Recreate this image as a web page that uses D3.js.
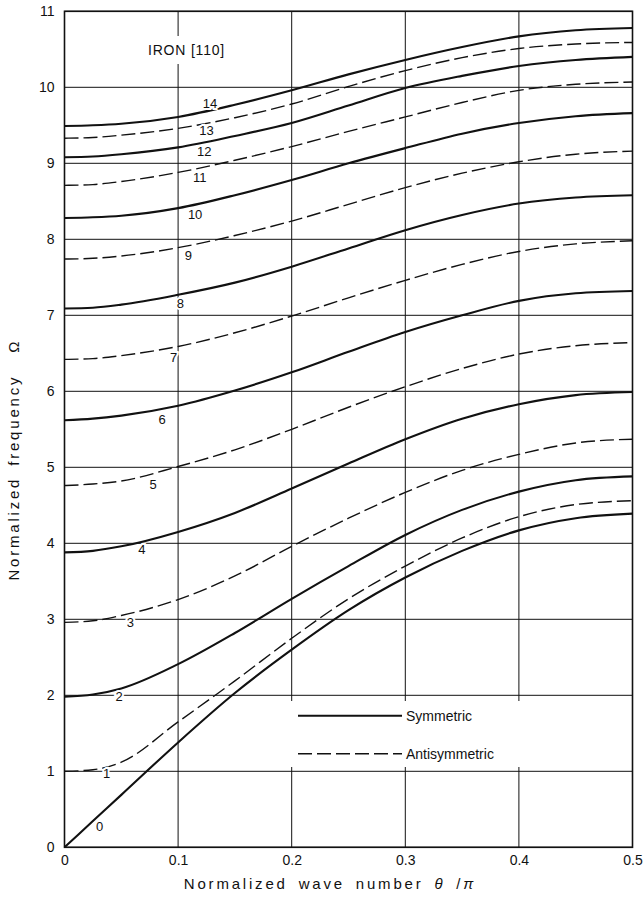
<!DOCTYPE html>
<html>
<head>
<meta charset="utf-8">
<script src="https://cdn.jsdelivr.net/npm/d3@7"></script>
<style>
body { margin: 0; background: #fff; }
svg { display: block; font-family: "Liberation Sans", Arial, sans-serif; }
</style>
</head>
<body>
<div id="chart"></div>
<script>
// sample points along the wave number axis (theta / pi)
const thetaGrid = [0, 0.025, 0.05, 0.1, 0.15, 0.2, 0.25, 0.3, 0.35, 0.4, 0.45, 0.5];

// normalized frequency of each branch at thetaGrid
const omega0  = [0, 0.345, 0.69, 1.38, 2.03, 2.60, 3.12, 3.55, 3.90, 4.17, 4.33, 4.39];
const omega1  = [1.00, 1.02, 1.12, 1.65, 2.19, 2.75, 3.27, 3.70, 4.07, 4.35, 4.51, 4.56];
const omega2  = [1.98, 2.01, 2.09, 2.41, 2.82, 3.27, 3.70, 4.11, 4.44, 4.68, 4.83, 4.88];
const omega3  = [2.96, 2.98, 3.05, 3.26, 3.57, 3.96, 4.33, 4.67, 4.96, 5.17, 5.32, 5.37];
const omega4  = [3.88, 3.90, 3.96, 4.15, 4.40, 4.72, 5.05, 5.37, 5.64, 5.83, 5.95, 5.99];
const omega5  = [4.76, 4.78, 4.82, 5.01, 5.23, 5.50, 5.79, 6.06, 6.30, 6.49, 6.60, 6.64];
const omega6  = [5.62, 5.64, 5.68, 5.81, 6.01, 6.25, 6.52, 6.78, 7.00, 7.19, 7.29, 7.32];
const omega7  = [6.42, 6.43, 6.47, 6.59, 6.77, 6.99, 7.23, 7.46, 7.67, 7.84, 7.94, 7.98];
const omega8  = [7.09, 7.10, 7.14, 7.27, 7.43, 7.64, 7.88, 8.12, 8.32, 8.47, 8.55, 8.58];
const omega9  = [7.74, 7.75, 7.78, 7.89, 8.05, 8.24, 8.46, 8.68, 8.87, 9.02, 9.12, 9.16];
const omega10 = [8.28, 8.29, 8.31, 8.41, 8.58, 8.78, 9.00, 9.20, 9.39, 9.53, 9.62, 9.66];
const omega11 = [8.71, 8.72, 8.76, 8.88, 9.04, 9.22, 9.42, 9.61, 9.80, 9.96, 10.04, 10.07];
const omega12 = [9.08, 9.09, 9.12, 9.21, 9.36, 9.53, 9.76, 9.99, 10.15, 10.28, 10.36, 10.40];
const omega13 = [9.33, 9.34, 9.37, 9.46, 9.60, 9.78, 10.01, 10.22, 10.39, 10.51, 10.57, 10.59];
const omega14 = [9.49, 9.50, 9.52, 9.61, 9.77, 9.96, 10.17, 10.36, 10.53, 10.67, 10.75, 10.78];

const branches = [omega0, omega1, omega2, omega3, omega4, omega5, omega6, omega7,
                  omega8, omega9, omega10, omega11, omega12, omega13, omega14];

// where each branch number is written (theta, omega)
const labelTheta = [0.031, 0.037, 0.048, 0.058, 0.068, 0.078, 0.086, 0.096,
                    0.102, 0.109, 0.115, 0.119, 0.123, 0.125, 0.128];
const labelOmega = [0.28, 0.97, 1.99, 2.96, 3.92, 4.78, 5.63, 6.45,
                    7.15, 7.79, 8.33, 8.82, 9.16, 9.43, 9.79];

const xTicks = [0, 0.1, 0.2, 0.3, 0.4, 0.5];
const yTicks = d3.range(0, 12);
const legendItems = ["Symmetric", "Antisymmetric"];

const width = 644, height = 899;
const x = d3.scaleLinear([0, 0.5], [64.5, 632.5]);
const y = d3.scaleLinear([0, 11], [847.3, 11.3]);

const svg = d3.create("svg")
    .attr("width", width)
    .attr("height", height)
    .attr("viewBox", [0, 0, width, height]);

// grid
const grid = svg.append("g")
    .attr("stroke", "#111")
    .attr("stroke-width", 1);
grid.selectAll("line.v")
  .data(xTicks)
  .join("line")
    .attr("x1", d => x(d)).attr("x2", d => x(d))
    .attr("y1", y(0)).attr("y2", y(11));
grid.selectAll("line.h")
  .data(yTicks)
  .join("line")
    .attr("x1", x(0)).attr("x2", x(0.5))
    .attr("y1", d => y(d)).attr("y2", d => y(d));

svg.append("rect")
    .attr("x", x(0)).attr("y", y(11))
    .attr("width", x(0.5) - x(0)).attr("height", y(0) - y(11))
    .attr("fill", "none")
    .attr("stroke", "#111")
    .attr("stroke-width", 1.6);

// title box hides the grid line behind it
const title = svg.append("g");
title.append("rect")
    .attr("x", 144).attr("y", 36).attr("width", 84).attr("height", 28)
    .attr("fill", "#fff");
title.append("text")
    .attr("x", 148).attr("y", 55)
    .attr("font-size", 14)
    .attr("letter-spacing", 0.8)
    .attr("fill", "#111")
    .text("IRON [110]");

// axes
svg.append("g")
    .attr("transform", `translate(0,${y(0)})`)
    .call(d3.axisBottom(x).tickValues(xTicks).tickSize(0).tickPadding(8)
        .tickFormat(d => d === 0 ? "0" : d.toFixed(1)))
    .call(g => g.select(".domain").remove())
    .call(g => g.selectAll("text").attr("font-size", 14).attr("fill", "#111")
        .attr("font-family", "Liberation Sans, Arial, sans-serif"));

svg.append("g")
    .attr("transform", `translate(${x(0)},0)`)
    .call(d3.axisLeft(y).tickValues(yTicks).tickSize(0).tickPadding(10)
        .tickFormat(d3.format("d")))
    .call(g => g.select(".domain").remove())
    .call(g => g.selectAll("text").attr("font-size", 14).attr("fill", "#111")
        .attr("font-family", "Liberation Sans, Arial, sans-serif"));

svg.append("text")
    .attr("x", 330).attr("y", 889)
    .attr("text-anchor", "middle")
    .attr("font-size", 15)
    .attr("letter-spacing", 2.8)
    .attr("word-spacing", 4)
    .attr("fill", "#111")
    .html("Normalized wave number <tspan font-style=\"italic\">θ</tspan> /<tspan font-style=\"italic\">π</tspan>");

svg.append("text")
    .attr("transform", `translate(19,${y(5.1)}) rotate(-90)`)
    .attr("text-anchor", "middle")
    .attr("font-size", 15)
    .attr("letter-spacing", 2.8)
    .attr("word-spacing", 4)
    .attr("fill", "#111")
    .html("Normalized frequency &#160;Ω");

// dispersion branches
const line = d3.line()
    .x((d, i) => x(thetaGrid[i]))
    .y(d => y(d))
    .curve(d3.curveMonotoneX);

svg.append("g")
    .attr("fill", "none")
    .attr("stroke", "#111")
  .selectAll("path")
  .data(branches)
  .join("path")
    .attr("stroke-width", (d, i) => i % 2 === 0 ? 2.1 : 1.4)
    .attr("stroke-dasharray", (d, i) => i % 2 === 0 ? null : "14,5")
    .attr("d", line);

// branch numbers
svg.append("g")
    .attr("font-size", 13)
    .attr("text-anchor", "middle")
  .selectAll("text")
  .data(branches.map((d, i) => i))
  .join("text")
    .attr("x", i => x(labelTheta[i]))
    .attr("y", i => y(labelOmega[i]))
    .attr("dy", "0.35em")
    .attr("fill", "#111")
    .text(i => i)
  .clone(true).lower()
    .attr("stroke", "white")
    .attr("stroke-width", 4);

// legend
const legend = svg.append("g");
legend.append("rect")
    .attr("x", 290).attr("y", 701).attr("width", 230).attr("height", 66)
    .attr("fill", "#fff");
const item = legend.selectAll("g")
  .data(legendItems)
  .join("g")
    .attr("transform", (d, i) => `translate(298,${y(1.73) + i * 38})`);
item.append("line")
    .attr("x1", 0).attr("x2", 104)
    .attr("stroke", "#111")
    .attr("stroke-width", (d, i) => i === 0 ? 2.1 : 1.4)
    .attr("stroke-dasharray", (d, i) => i === 0 ? null : "14,5");
item.append("text")
    .attr("x", 108).attr("dy", "0.35em")
    .attr("font-size", 14)
    .attr("fill", "#111")
    .text(d => d);

d3.select("#chart").append(() => svg.node());
</script>
</body>
</html>
